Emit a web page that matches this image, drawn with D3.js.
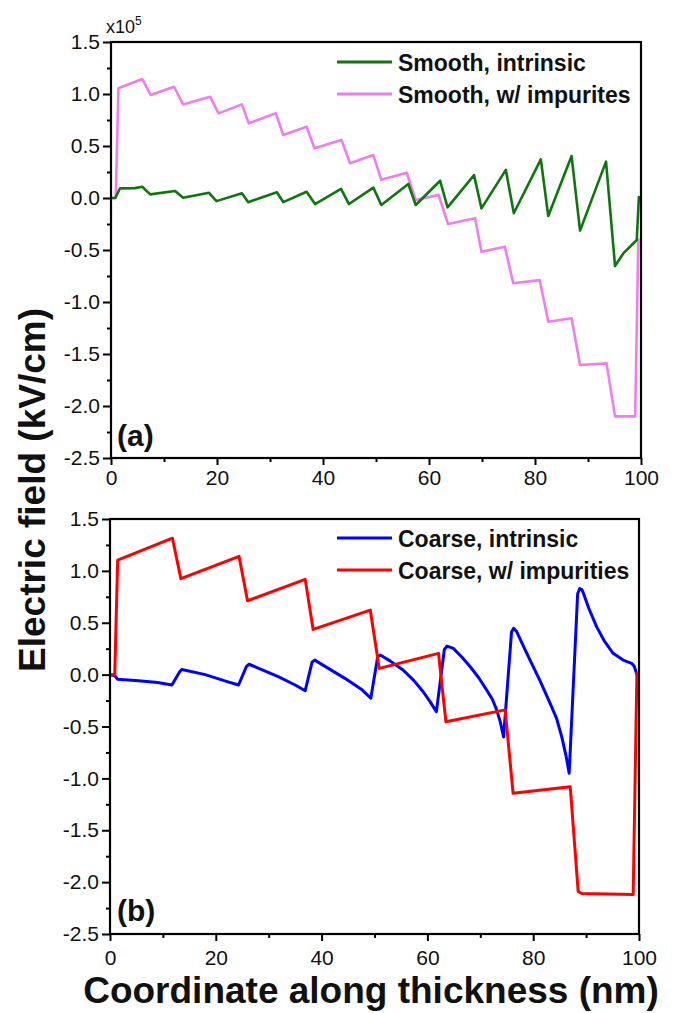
<!DOCTYPE html>
<html>
<head>
<meta charset="utf-8">
<script src="https://cdn.jsdelivr.net/npm/d3@7"></script>
<style>
  html, body { margin: 0; padding: 0; background: #fff; }
  svg { display: block; }
</style>
</head>
<body>
<svg id="chart" width="674" height="1013"></svg>
<script>
// ---------- DATA (values in units of 10^5 kV/cm) ----------
const xTicksMajor = [0, 20, 40, 60, 80, 100];
const xTicksMinor = [10, 30, 50, 70, 90];
const yTicksMajor = [-2.5, -2.0, -1.5, -1.0, -0.5, 0.0, 0.5, 1.0, 1.5];
const yTicksMinor = [-2.25, -1.75, -1.25, -0.75, -0.25, 0.25, 0.75, 1.25];

const legendA = ["Smooth, intrinsic", "Smooth, w/ impurites"];
const legendB = ["Coarse, intrinsic", "Coarse, w/ impurities"];
const panelLabels = ["(a)", "(b)"];

const smoothIntrinsic = [
  [0,0],[0.8,0],[1.7,0.093],[4.5,0.095],[5.9,0.108],[7.4,0.035],[12.1,0.067],[13.6,0.003],
  [18.5,0.05],[19.9,-0.03],[24.7,0.045],[25.9,-0.04],[31.3,0.055],[32.5,-0.04],
  [36.9,0.06],[38.5,-0.058],[43.4,0.087],[44.9,-0.058],[49.5,0.10],[51.0,-0.067],
  [56.1,0.135],[57.5,-0.067],[62.1,0.166],[63.5,-0.09],[68.5,0.22],[69.9,-0.10],
  [74.5,0.27],[76.0,-0.147],[81.1,0.372],[82.5,-0.173],[86.9,0.404],[88.5,-0.314],
  [93.4,0.35],[95.1,-0.654],[96.7,-0.53],[99.2,-0.404],[99.6,0.01]
];
const smoothImpurities = [
  [0,0],[0.9,0],[1.4,1.055],[5.9,1.144],[7.5,0.99],[11.9,1.07],[13.6,0.90],
  [18.7,0.974],[20.3,0.814],[24.7,0.90],[26.0,0.718],[31.1,0.814],[32.5,0.606],
  [36.9,0.686],[38.4,0.478],[43.5,0.558],[45.1,0.334],[49.5,0.413],[51.0,0.175],
  [55.8,0.243],[57.5,-0.02],[61.8,0.03],[63.6,-0.25],[68.7,-0.195],[69.9,-0.516],
  [74.3,-0.468],[75.9,-0.82],[80.9,-0.79],[82.5,-1.19],[86.9,-1.157],[88.5,-1.606],
  [93.5,-1.59],[95.1,-2.10],[98.9,-2.10],[99.5,-0.40]
];
const coarseIntrinsic = [
  [0,0],[0.9,-0.01],[1.45,-0.045],[5.4,-0.058],[9,-0.075],[11.7,-0.10],[13.2,0.03],[13.6,0.05],
  [18,0.0],[22,-0.065],[24.3,-0.10],[25.8,0.08],[26.3,0.10],[31.8,-0.02],[35,-0.10],[36.9,-0.155],
  [38.2,0.12],[38.7,0.14],[44.4,-0.036],[47.5,-0.14],[49.3,-0.228],[50.6,0.17],[51.1,0.19],
  [53,0.13],[55.4,0.045],[57.5,-0.06],[59.2,-0.165],[60.5,-0.26],[61.7,-0.357],
  [63.2,0.24],[63.7,0.275],[64.9,0.253],[66.5,0.17],[68.1,0.076],[69.7,-0.03],[71.2,-0.148],
  [72.3,-0.24],[73.1,-0.34],[73.8,-0.46],[74.4,-0.6],[75.9,0.41],[76.3,0.446],[76.9,0.413],
  [78.1,0.28],[79.4,0.14],[81.3,-0.06],[83.2,-0.277],[84.4,-0.42],[85.4,-0.6],[86.2,-0.78],
  [86.8,-0.951],[88.4,0.78],[88.8,0.83],[89.2,0.82],[89.6,0.77],[90.5,0.64],[92,0.46],
  [93.5,0.32],[95.1,0.205],[97.0,0.14],[98.6,0.109],[99.1,0.08],[99.6,0.0]
];
const coarseImpurities = [
  [0,0],[0.9,0],[1.45,1.104],[11.8,1.315],[13.4,0.925],[24.4,1.14],[26.0,0.712],
  [36.9,0.918],[38.4,0.436],[49.2,0.622],[50.9,0.06],[62.1,0.205],[63.5,-0.454],
  [74.7,-0.34],[76.2,-1.144],[87.0,-1.08],[88.5,-2.09],[89.2,-2.11],[98.9,-2.12],[99.6,0.01]
];

// ---------- LAYOUT ----------
const svg = d3.select("#chart");
const font = "'Liberation Sans', Arial, Helvetica, sans-serif";

const panels = [
  { left: 111, right: 641, top: 42, bottom: 458, xLabelDy: 27,
    series: [
      { data: smoothIntrinsic, color: "#0d770d", width: 2.6 },
      { data: smoothImpurities, color: "#f07cf0", width: 2.6 }
    ], legend: legendA, label: panelLabels[0], legendY: 62, labelY: 446, lineOrder: [1, 0] },
  { left: 110, right: 639, top: 519, bottom: 934, xLabelDy: 31,
    series: [
      { data: coarseIntrinsic, color: "#0000ff", width: 3 },
      { data: coarseImpurities, color: "#ff0000", width: 3 }
    ], legend: legendB, label: panelLabels[1], legendY: 538, labelY: 921, lineOrder: [0, 1] }
];

panels.forEach(p => {
  const x = d3.scaleLinear().domain([0, 100]).range([p.left, p.right]);
  const y = d3.scaleLinear().domain([-2.5, 1.5]).range([p.bottom, p.top]);
  const g = svg.append("g");

  const clipId = "clip" + p.top;
  svg.append("clipPath").attr("id", clipId).append("rect")
    .attr("x", p.left).attr("y", p.top).attr("width", p.right - p.left).attr("height", p.bottom - p.top);

  const line = d3.line().x(d => x(d[0])).y(d => y(d[1])).curve(d3.curveLinear);
  p.lineOrder.forEach(i => {
    const s = p.series[i];
    g.append("path").datum(s.data)
      .attr("clip-path", `url(#${clipId})`)
      .attr("fill", "none").attr("stroke", s.color).attr("stroke-width", s.width)
      .attr("stroke-linejoin", "round").attr("stroke-linecap", "round")
      .attr("d", line);
  });

  const xAxis = d3.axisBottom(x).tickValues(xTicksMajor).tickSize(7).tickSizeOuter(0)
    .tickPadding(p.xLabelDy - 7 - 15).tickFormat(d => String(d));
  const xMinor = d3.axisBottom(x).tickValues(xTicksMinor).tickSize(4).tickSizeOuter(0).tickFormat("");
  const yAxis = d3.axisLeft(y).tickValues(yTicksMajor).tickSize(8).tickSizeOuter(0)
    .tickPadding(3).tickFormat(d => d.toFixed(1));
  const yMinor = d3.axisLeft(y).tickValues(yTicksMinor).tickSize(4).tickSizeOuter(0).tickFormat("");

  [[xAxis, "x"], [xMinor, "x"], [yAxis, "y"], [yMinor, "y"]].forEach(([ax, t]) => {
    const a = g.append("g")
      .attr("transform", t === "x" ? `translate(0,${p.bottom})` : `translate(${p.left},0)`)
      .call(ax);
    a.select(".domain").remove();
    a.selectAll(".tick line").attr("stroke", "#000").attr("stroke-width", 2);
    a.selectAll(".tick text").attr("font-family", font).attr("font-size", 21).attr("fill", "#111");
  });

  g.append("rect").attr("x", p.left).attr("y", p.top)
    .attr("width", p.right - p.left).attr("height", p.bottom - p.top)
    .attr("fill", "none").attr("stroke", "#000").attr("stroke-width", 2.2);

  p.series.forEach((s, i) => {
    const ly = p.legendY + i * 32;
    g.append("line").attr("x1", 337).attr("x2", 392).attr("y1", ly).attr("y2", ly)
      .attr("stroke", s.color).attr("stroke-width", 3);
    g.append("text").attr("x", 398).attr("y", ly + 9)
      .attr("font-family", font).attr("font-size", 23).attr("font-weight", "bold")
      .attr("fill", "#111").text(p.legend[i]);
  });

  g.append("text").attr("x", 117).attr("y", p.labelY)
    .attr("font-family", font).attr("font-size", 30).attr("font-weight", "bold")
    .attr("fill", "#111").text(p.label);
});

const mult = svg.append("text").attr("x", 106).attr("y", 33)
  .attr("font-family", font).attr("font-size", 18).attr("fill", "#111");
mult.append("tspan").text("x10");
mult.append("tspan").attr("font-size", 12).attr("dy", -8).text("5");

svg.append("text")
  .attr("transform", "translate(45,490) rotate(-90)")
  .attr("text-anchor", "middle")
  .attr("font-family", font).attr("font-size", 37).attr("font-weight", "bold")
  .attr("fill", "#111").text("Electric field (kV/cm)");

svg.append("text")
  .attr("x", 371).attr("y", 1003).attr("text-anchor", "middle")
  .attr("font-family", font).attr("font-size", 37).attr("font-weight", "bold")
  .attr("fill", "#111").text("Coordinate along thickness (nm)");
</script>
</body>
</html>
